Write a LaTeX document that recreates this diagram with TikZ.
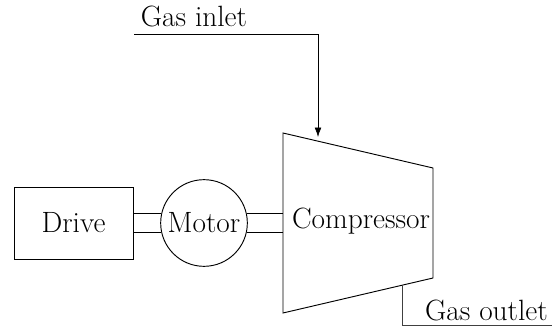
\documentclass[tikz,border=0pt]{standalone}
\usepackage{tikz}
\usetikzlibrary{positioning,arrows.meta,calc}

\tikzset{
  unit/.style={draw, line width=0.7pt},
  gasline/.style={line width=0.5pt, black!75},
  gasarrow/.style={gasline, -{Latex[length=7pt,width=5pt]}, black},
  shaft/.style={line width=0.7pt}
}

\begin{document}
\begin{tikzpicture}[x=0.75pt, y=-0.75pt, font=\fontsize{22}{26}\selectfont]
  \useasboundingbox (0,0) rectangle (552,327);

  % drive and motor
  \node[unit, rectangle, minimum width=89.25pt, minimum height=54pt] (drive) at (73.5,223) {Drive};
  \node[unit, circle, minimum size=65pt, inner sep=0pt] (motor) at (204,223) {Motor};

  % compressor body
  \coordinate (ctl) at (283,133);
  \coordinate (ctr) at (433,168);
  \coordinate (cbr) at (433,278);
  \coordinate (cbl) at (283,313);
  \draw[line width=0.7pt] (ctl) -- (ctr) -- (cbr) -- (cbl) -- cycle;
  \node[inner sep=0pt] (comp) at (361,221) {Compressor};

  % shafts
  \draw[shaft] (motor.167.5 -| drive.east) -- (motor.167.5);
  \draw[shaft] (motor.192.5 -| drive.east) -- (motor.192.5);
  \draw[shaft] (motor.12.5) -- (motor.12.5 -| ctl);
  \draw[shaft] (motor.-12.5) -- (motor.-12.5 -| ctl);

  % gas in and out
  \node[anchor=south west, inner sep=5pt] (inlet) at (134,34) {Gas inlet};
  \coordinate (inletB) at (318,137);
  \draw[gasarrow] (inlet.south west) -| (inletB);

  \coordinate (outletA) at ($(cbl)!0.793!(cbr)$);
  \node[anchor=south east, inner sep=3pt] (outlet) at (552,325) {Gas outlet};
  \draw[gasline] (outletA) |- (outlet.south east);
\end{tikzpicture}
\end{document}
